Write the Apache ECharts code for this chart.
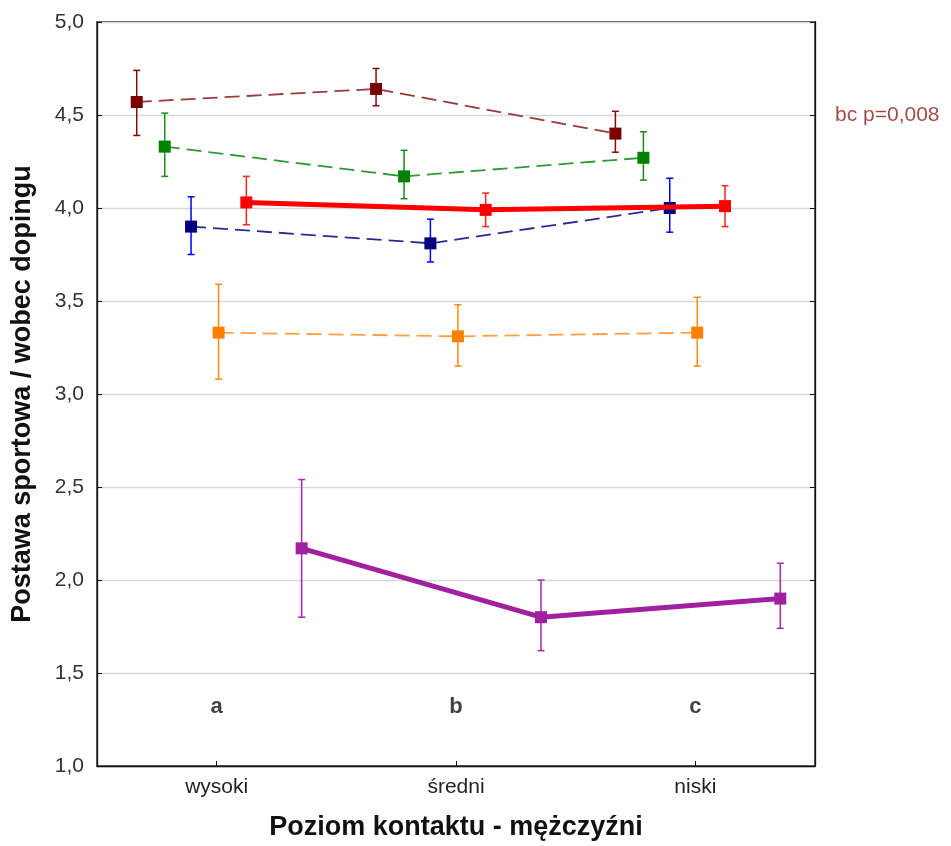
<!DOCTYPE html>
<html>
<head>
<meta charset="utf-8">
<script src="https://cdn.jsdelivr.net/npm/echarts@6/dist/echarts.min.js"></script>
<style>
  html, body { margin: 0; padding: 0; background: #fff; }
  #chart { width: 951px; height: 846px; }
</style>
</head>
<body>
<div id="chart"></div>
<script>
// Categories on the x axis
const categories = ['wysoki', 'średni', 'niski'];
// Significance letters under each category
const groupLetters = ['a', 'b', 'c'];
const noteText = 'bc p=0,008';
// Y axis ticks
const yTicks = [1.0, 1.5, 2.0, 2.5, 3.0, 3.5, 4.0, 4.5, 5.0];

// Means with lower / upper interval bounds, per category
const darkRedMean = [4.57, 4.64, 4.40];
const darkRedLow  = [4.39, 4.55, 4.30];
const darkRedHigh = [4.74, 4.75, 4.52];

const greenMean = [4.33, 4.17, 4.27];
const greenLow  = [4.17, 4.05, 4.15];
const greenHigh = [4.51, 4.31, 4.41];

const blueMean = [3.90, 3.81, 4.00];
const blueLow  = [3.75, 3.71, 3.87];
const blueHigh = [4.06, 3.94, 4.16];

const orangeMean = [3.33, 3.31, 3.33];
const orangeLow  = [3.08, 3.15, 3.15];
const orangeHigh = [3.59, 3.48, 3.52];

const redMean = [4.03, 3.99, 4.01];
const redLow  = [3.91, 3.90, 3.90];
const redHigh = [4.17, 4.08, 4.12];

const purpleMean = [2.17, 1.80, 1.90];
const purpleLow  = [1.80, 1.62, 1.74];
const purpleHigh = [2.54, 2.00, 2.09];

// Series definitions: horizontal dodge within a category and drawing style
const groups = [
  { mean: darkRedMean, low: darkRedLow, high: darkRedHigh, dodge: -0.334, marker: '#7a0000', line: '#9a3a3a', bar: '#8a0a0a', width: 1.8, dashed: true },
  { mean: greenMean,   low: greenLow,   high: greenHigh,   dodge: -0.217, marker: '#008000', line: '#2f9a2f', bar: '#1a8a1a', width: 1.8, dashed: true },
  { mean: blueMean,    low: blueLow,    high: blueHigh,    dodge: -0.107, marker: '#000080', line: '#2a2a92', bar: '#0000ff', width: 1.8, dashed: true },
  { mean: orangeMean,  low: orangeLow,  high: orangeHigh,  dodge: 0.008,  marker: '#ff8000', line: '#ffa040', bar: '#ff8a10', width: 1.8, dashed: true },
  { mean: redMean,     low: redLow,     high: redHigh,     dodge: 0.124,  marker: '#ff0000', line: '#ff0000', bar: '#ff2020', width: 5,   dashed: false },
  { mean: purpleMean,  low: purpleLow,  high: purpleHigh,  dodge: 0.355,  marker: '#a020a0', line: '#a020a0', bar: '#a828a8', width: 5,   dashed: false }
];

const LETTER_Y = 1.32;
const fmtComma = v => v.toFixed(1).replace('.', ',');
const FONT = 'Liberation Sans, Arial, sans-serif';

const series = [];
groups.forEach((g, gi) => {
  const pts = g.mean.map((m, i) => [i + 0.5 + g.dodge, m]);
  const bars = g.mean.map((m, i) => [i + 0.5 + g.dodge, g.low[i], g.high[i]]);
  series.push({
    type: 'custom',
    z: 2 + gi,
    silent: true,
    clip: false,
    data: bars,
    encode: { x: 0, y: [1, 2] },
    renderItem: (params, api) => {
      const x = api.value(0);
      const lo = api.coord([x, api.value(1)]);
      const hi = api.coord([x, api.value(2)]);
      const cap = 3.5;
      const st = { stroke: g.bar, lineWidth: 1.5 };
      return {
        type: 'group',
        children: [
          { type: 'line', shape: { x1: lo[0], y1: lo[1], x2: hi[0], y2: hi[1] }, style: st },
          { type: 'line', shape: { x1: lo[0] - cap, y1: lo[1], x2: lo[0] + cap, y2: lo[1] }, style: st },
          { type: 'line', shape: { x1: hi[0] - cap, y1: hi[1], x2: hi[0] + cap, y2: hi[1] }, style: st }
        ]
      };
    }
  });
  series.push({
    type: 'line',
    z: 10 + gi,
    silent: true,
    data: pts,
    symbol: 'rect',
    symbolSize: 12,
    showAllSymbol: true,
    itemStyle: { color: g.marker },
    lineStyle: { color: g.line, width: g.width, type: g.dashed ? [15, 7] : 'solid' },
    animation: false
  });
});

// Group letters under each category
series.push({
  type: 'scatter',
  silent: true,
  symbolSize: 0,
  data: groupLetters.map((t, i) => ({ value: [i + 0.5, LETTER_Y], name: t })),
  label: {
    show: true,
    position: 'inside',
    formatter: p => p.name,
    fontFamily: FONT,
    fontWeight: 'bold',
    fontSize: 22,
    color: '#111'
  },
  z: 30
});

// Note next to the right edge at 4,5
series.push({
  type: 'scatter',
  silent: true,
  clip: false,
  symbolSize: 0,
  data: [{ value: [3, 4.5], name: noteText }],
  label: {
    show: true,
    position: 'right',
    distance: 20,
    formatter: p => p.name,
    fontFamily: FONT,
    fontSize: 21,
    color: '#8b1a1a'
  },
  z: 30
});

const chart = echarts.init(document.getElementById('chart'), null, { renderer: 'canvas' });
chart.setOption({
  animation: false,
  backgroundColor: '#fff',
  grid: {
    left: 97, right: 136, top: 22, bottom: 80,
    outerBoundsMode: 'none',
    containLabel: false,
    show: true, borderColor: '#111', borderWidth: 1.3, backgroundColor: 'transparent'
  },
  xAxis: {
    type: 'value',
    min: 0, max: 3, interval: 0.5,
    name: 'Poziom kontaktu - mężczyźni',
    nameLocation: 'middle',
    nameGap: 48,
    nameTextStyle: { fontFamily: FONT, fontWeight: 'bold', fontSize: 27, color: '#111' },
    axisLine: { show: true, lineStyle: { color: '#111', width: 1.3 } },
    splitLine: { show: false },
    axisTick: { show: true, inside: true, length: 5, lineStyle: { color: '#111' }, customValues: [0.5, 1.5, 2.5] },
    axisLabel: {
      customValues: [0.5, 1.5, 2.5],
      formatter: v => categories[Math.floor(v)],
      margin: 11,
      fontFamily: FONT,
      fontSize: 21,
      color: '#222'
    }
  },
  yAxis: [
    {
      type: 'value',
      min: 1, max: 5, interval: 0.5,
      name: 'Postawa sportowa / wobec dopingu',
      nameLocation: 'middle',
      nameGap: 61,
      nameTextStyle: { fontFamily: FONT, fontWeight: 'bold', fontSize: 27, color: '#111' },
      axisLine: { show: true, lineStyle: { color: '#111', width: 1.3 } },
      axisTick: { show: true, inside: true, length: 5, lineStyle: { color: '#111' }, customValues: yTicks },
      axisLabel: {
        customValues: yTicks,
        formatter: fmtComma,
        margin: 13,
        fontFamily: FONT,
        fontSize: 21,
        color: '#333'
      },
      splitLine: { show: true, lineStyle: { color: '#d8d8d8', width: 1.3 } }
    },
    {
      type: 'value',
      position: 'right',
      min: 1, max: 5, interval: 0.5,
      axisLine: { show: true, lineStyle: { color: '#111', width: 1.3 } },
      axisTick: { show: true, inside: true, length: 5, lineStyle: { color: '#111' } },
      axisLabel: { show: false },
      splitLine: { show: false }
    }
  ],
  series: series
});
</script>
</body>
</html>
